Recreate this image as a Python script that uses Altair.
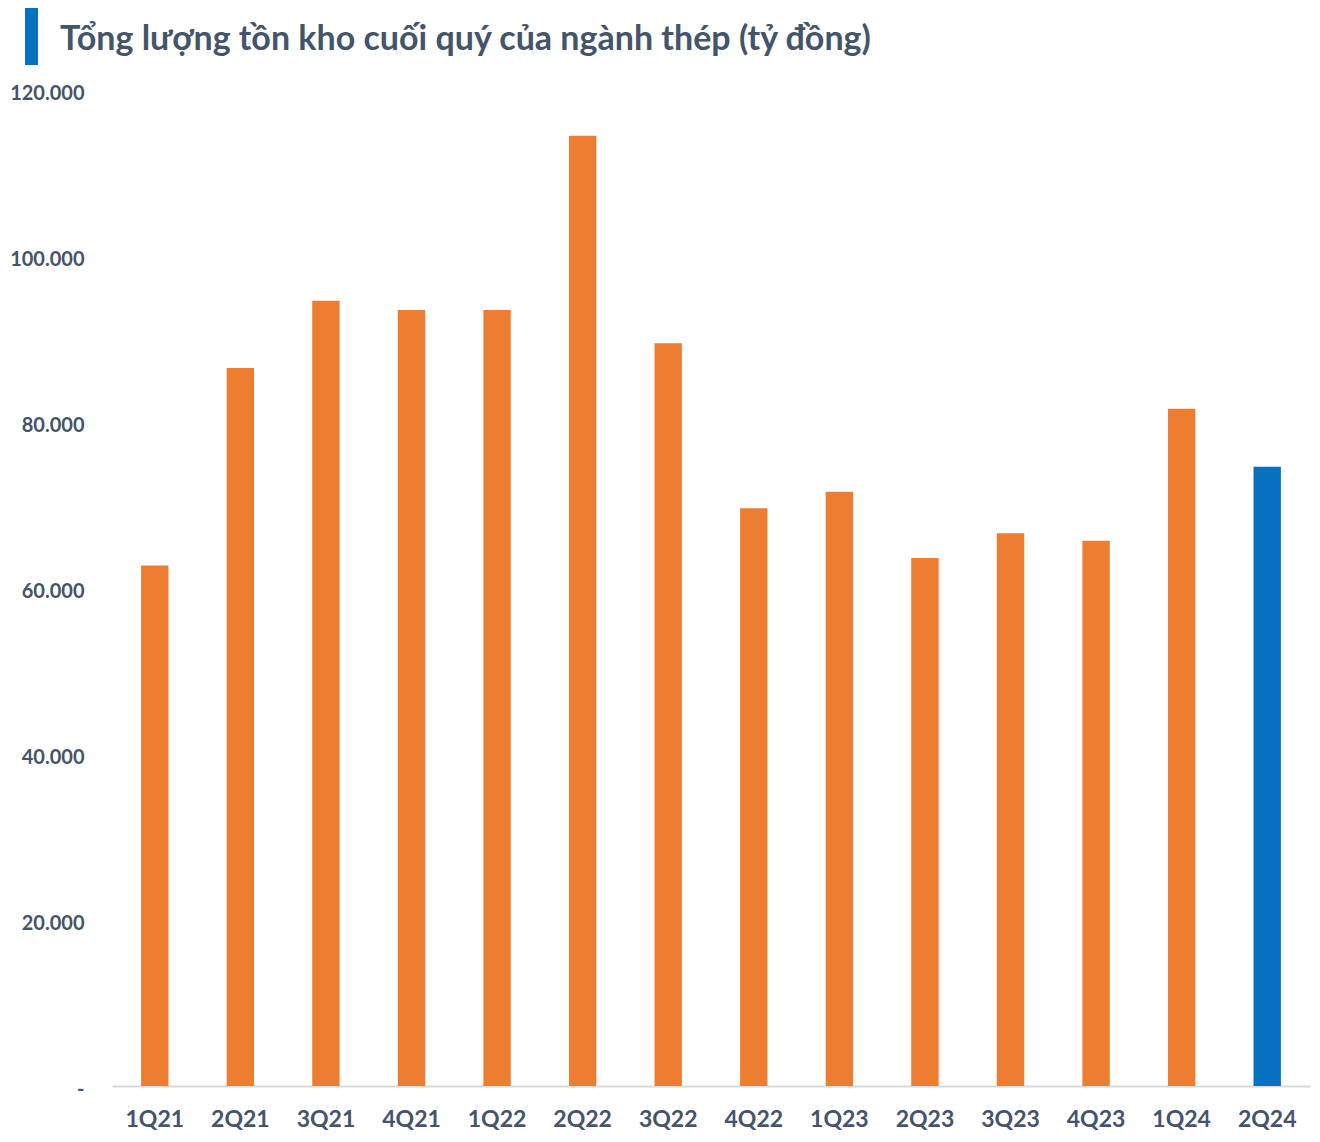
import altair as alt
import pandas as pd

quarters = ["1Q21", "2Q21", "3Q21", "4Q21", "1Q22", "2Q22", "3Q22",
            "4Q22", "1Q23", "2Q23", "3Q23", "4Q23", "1Q24", "2Q24"]
inventory = [62700, 86500, 94600, 93500, 93500, 114500, 89500,
             69600, 71600, 63600, 66600, 65700, 81600, 74600]
highlight = "2Q24"
y_ticks = [0, 20000, 40000, 60000, 80000, 100000, 120000]
title_text = "Tổng lượng tồn kho cuối quý của ngành thép (tỷ đồng)"

ORANGE = "#ED7D31"
BLUE = "#0770C0"
TEXT = "#44546A"
FONT = "Lato"

df = pd.DataFrame({"quarter": quarters, "value": inventory})

bars = alt.Chart(df).mark_bar(clip=False).encode(
    x=alt.X("quarter:N", sort=quarters,
            scale=alt.Scale(paddingInner=0.68, paddingOuter=0.34),
            axis=alt.Axis(title=None, labelAngle=0, ticks=False,
                          domainColor="#D9D9D9", domainWidth=2,
                          labelFont=FONT, labelFontSize=23, labelFontWeight="bold",
                          labelColor=TEXT, labelPadding=22)),
    y=alt.Y("value:Q", scale=alt.Scale(domain=[0, 120000], nice=False),
            axis=alt.Axis(title=None, values=y_ticks, grid=False, ticks=False,
                          domain=False, labelFont=FONT, labelFontSize=20,
                          labelFontWeight="bold", labelColor=TEXT, labelPadding=28,
                          labelOffset=3,
                          labelExpr="datum.value == 0 ? '-\u00a0\u00a0\u00a0' : replace(format(datum.value, ',.0f'), ',', '.')")),
    color=alt.condition(alt.datum.quarter == highlight, alt.value(BLUE), alt.value(ORANGE)),
)

one = pd.DataFrame({"t": [title_text]})

accent = alt.Chart(one).mark_rect(color=BLUE, clip=False).encode(
    x=alt.value(-87), x2=alt.value(-74), y=alt.value(-83), y2=alt.value(-25)
)

title = alt.Chart(one).mark_text(
    align="left", baseline="alphabetic", font=FONT, fontSize=34,
    fontWeight="bold", color=TEXT, clip=False
).encode(x=alt.value(-52), y=alt.value(-40), text="t:N")

chart = alt.layer(accent, title, bars).properties(
    width=1198, height=996,
    padding={"left": 104, "top": 82, "right": 2, "bottom": 48},
    autosize=alt.AutoSizeParams(type="none"),
).configure_view(stroke=None)

chart.save("out.html", embed_options={"renderer": "svg", "actions": False})
